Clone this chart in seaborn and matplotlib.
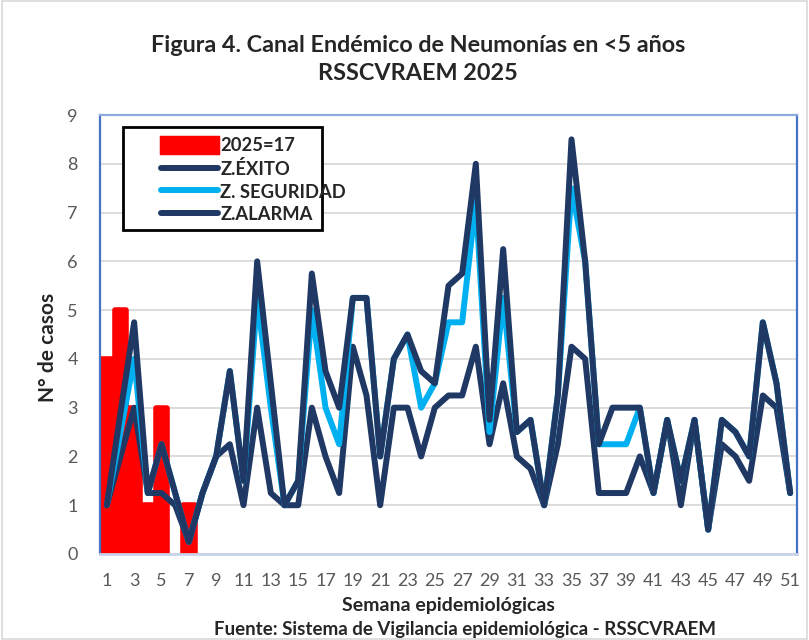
import numpy as np
import pandas as pd
import matplotlib
matplotlib.use("Agg")
import matplotlib.pyplot as plt
import seaborn as sns
from matplotlib.lines import Line2D
from matplotlib.patches import Patch, Rectangle

# ---- data ----
weeks = list(range(1, 52))

weeks_2025 = [1, 2, 3, 4, 5, 6, 7]
cases_2025 = [4, 5, 3, 1, 3, 0, 1]

z_exito = [1, 2, 3, 1.25, 1.25, 1, 0.25, 1.25, 2, 2.25,
           1, 3, 1.25, 1, 1, 3, 2, 1.25, 4.25, 3.25,
           1, 3, 3, 2, 3, 3.25, 3.25, 4.25, 2.25, 3.5,
           2, 1.75, 1, 2.25, 4.25, 4, 1.25, 1.25, 1.25, 2,
           1.25, 2.75, 1, 2.75, 0.5, 2.25, 2, 1.5, 3.25, 3,
           1.25]

z_seguridad = [1, 2.5, 4, 1.25, 2.25, 1.25, 0.25, 1.25, 2, 3.75,
               1.5, 5.25, 3, 1, 1.5, 5, 3, 2.25, 5.25, 5.25,
               2, 4, 4.5, 3, 3.5, 4.75, 4.75, 7.25, 2.5, 5.25,
               2.5, 2.75, 1, 3.25, 7.5, 6, 2.25, 2.25, 2.25, 3,
               1.25, 2.75, 1.5, 2.75, 0.5, 2.75, 2.5, 2, 4.75, 3.5,
               1.25]

z_alarma = [1, 2.9, 4.75, 1.25, 2.25, 1.25, 0.25, 1.25, 2, 3.75,
            1.5, 6, 3.5, 1, 1.5, 5.75, 3.75, 3, 5.25, 5.25,
            2, 4, 4.5, 3.75, 3.5, 5.5, 5.75, 8, 2.75, 6.25,
            2.5, 2.75, 1, 3.25, 8.5, 6, 2.25, 3, 3, 3,
            1.25, 2.75, 1.5, 2.75, 0.5, 2.75, 2.5, 2, 4.75, 3.5,
            1.25]

tick_weeks = list(range(1, 52, 2))

# ---- style ----
sns.set_style("white")
plt.rcParams['font.family'] = ['Lato', 'DejaVu Sans']

navy = "#1F3864"
sky = "#00B0F0"
red = "#FF0000"
lw = 4.3

fig = plt.figure(figsize=(8.09, 6.40), dpi=100)
ax = fig.add_axes([100 / 809, 86 / 640, 697 / 809, 439 / 640])

# bars 2025
sns.barplot(x=weeks_2025, y=cases_2025, native_scale=True, width=0.85,
            color=red, saturation=1, errorbar=None, ax=ax, zorder=2)
for p in ax.patches:
    p.set_edgecolor(red)
    p.set_linewidth(4)
    p.set_joinstyle("round")
    if p.get_height() == 0:
        p.set_visible(False)

# endemic channel lines
sns.lineplot(x=weeks, y=z_exito, color=navy, lw=lw, ax=ax, zorder=3,
             solid_joinstyle="round", solid_capstyle="round")
sns.lineplot(x=weeks, y=z_seguridad, color=sky, lw=lw, ax=ax, zorder=4,
             solid_joinstyle="round", solid_capstyle="round")
sns.lineplot(x=weeks, y=z_alarma, color=navy, lw=lw, ax=ax, zorder=5,
             solid_joinstyle="round", solid_capstyle="round")

ax.set_xlim(0.5, 51.5)
ax.set_ylim(0, 9)
ax.set_yticks(range(0, 10))
ax.set_xticks(tick_weeks)
ax.set_xticklabels([str(w) for w in tick_weeks])
ax.set_xlabel("")
ax.set_ylabel("")
ax.tick_params(axis="both", length=0, labelsize=13, labelcolor="#595959")
ax.tick_params(axis="y", pad=16)
ax.tick_params(axis="x", pad=14)
ax.yaxis.grid(True, color="#D9D9D9", lw=1.3)
ax.set_axisbelow(True)

for side in ["left", "right"]:
    ax.spines[side].set_color("#4472C4")
    ax.spines[side].set_linewidth(1.6)
ax.spines["top"].set_color("#8FAADC")
ax.spines["top"].set_linewidth(1.6)
ax.spines["bottom"].set_color("#C9D3E8")
ax.spines["bottom"].set_linewidth(2)

# legend with its own frame
box = Rectangle((23 / 697, (554 - 230) / 439), 199 / 697, 103 / 439,
                transform=ax.transAxes, facecolor="white", edgecolor="black",
                lw=2, zorder=6)
ax.add_patch(box)
handles = [
    Patch(facecolor=red, edgecolor=red, lw=2.5, joinstyle="round"),
    Line2D([0], [0], color=navy, lw=lw, solid_capstyle="round"),
    Line2D([0], [0], color=sky, lw=lw, solid_capstyle="round"),
    Line2D([0], [0], color=navy, lw=lw, solid_capstyle="round"),
]
labels = ["2025=17", "Z.ÉXITO", "Z. SEGURIDAD", "Z.ALARMA"]
leg = ax.legend(handles, labels, loc="upper left",
                bbox_to_anchor=((152 - 100) / 697, (554 - 128) / 439),
                frameon=False, borderpad=0, handlelength=3.1, handleheight=0.95,
                handletextpad=0.12, labelspacing=0.3,
                prop={"weight": "bold", "size": 13.2})
leg.set_zorder(7)

# titles and labels
fig.text(0.517, 1 - 45 / 640, "Figura 4. Canal Endémico de Neumonías en <5 años",
         ha="center", va="center", fontsize=16.8, fontweight="bold")
fig.text(0.517, 1 - 73 / 640, "RSSCVRAEM 2025",
         ha="center", va="center", fontsize=16.8, fontweight="bold")
fig.text(48 / 809, 1 - 347 / 640, "N° de casos", rotation=90,
         ha="center", va="center", fontsize=15, fontweight="bold")
fig.text(448 / 809, 1 - 606 / 640, "Semana epidemiológicas",
         ha="center", va="center", fontsize=14, fontweight="bold")
fig.text(465 / 809, 1 - 621 / 640,
         "Fuente: Sistema de Vigilancia epidemiológica - RSSCVRAEM",
         ha="center", va="top", fontsize=13.5, fontweight="bold")

fig.patches.append(Rectangle((0.002, 0.002), 0.996, 0.996, transform=fig.transFigure,
                             fill=False, edgecolor="#D9D9D9", lw=1.2))

fig.savefig("out.png", dpi=100)
